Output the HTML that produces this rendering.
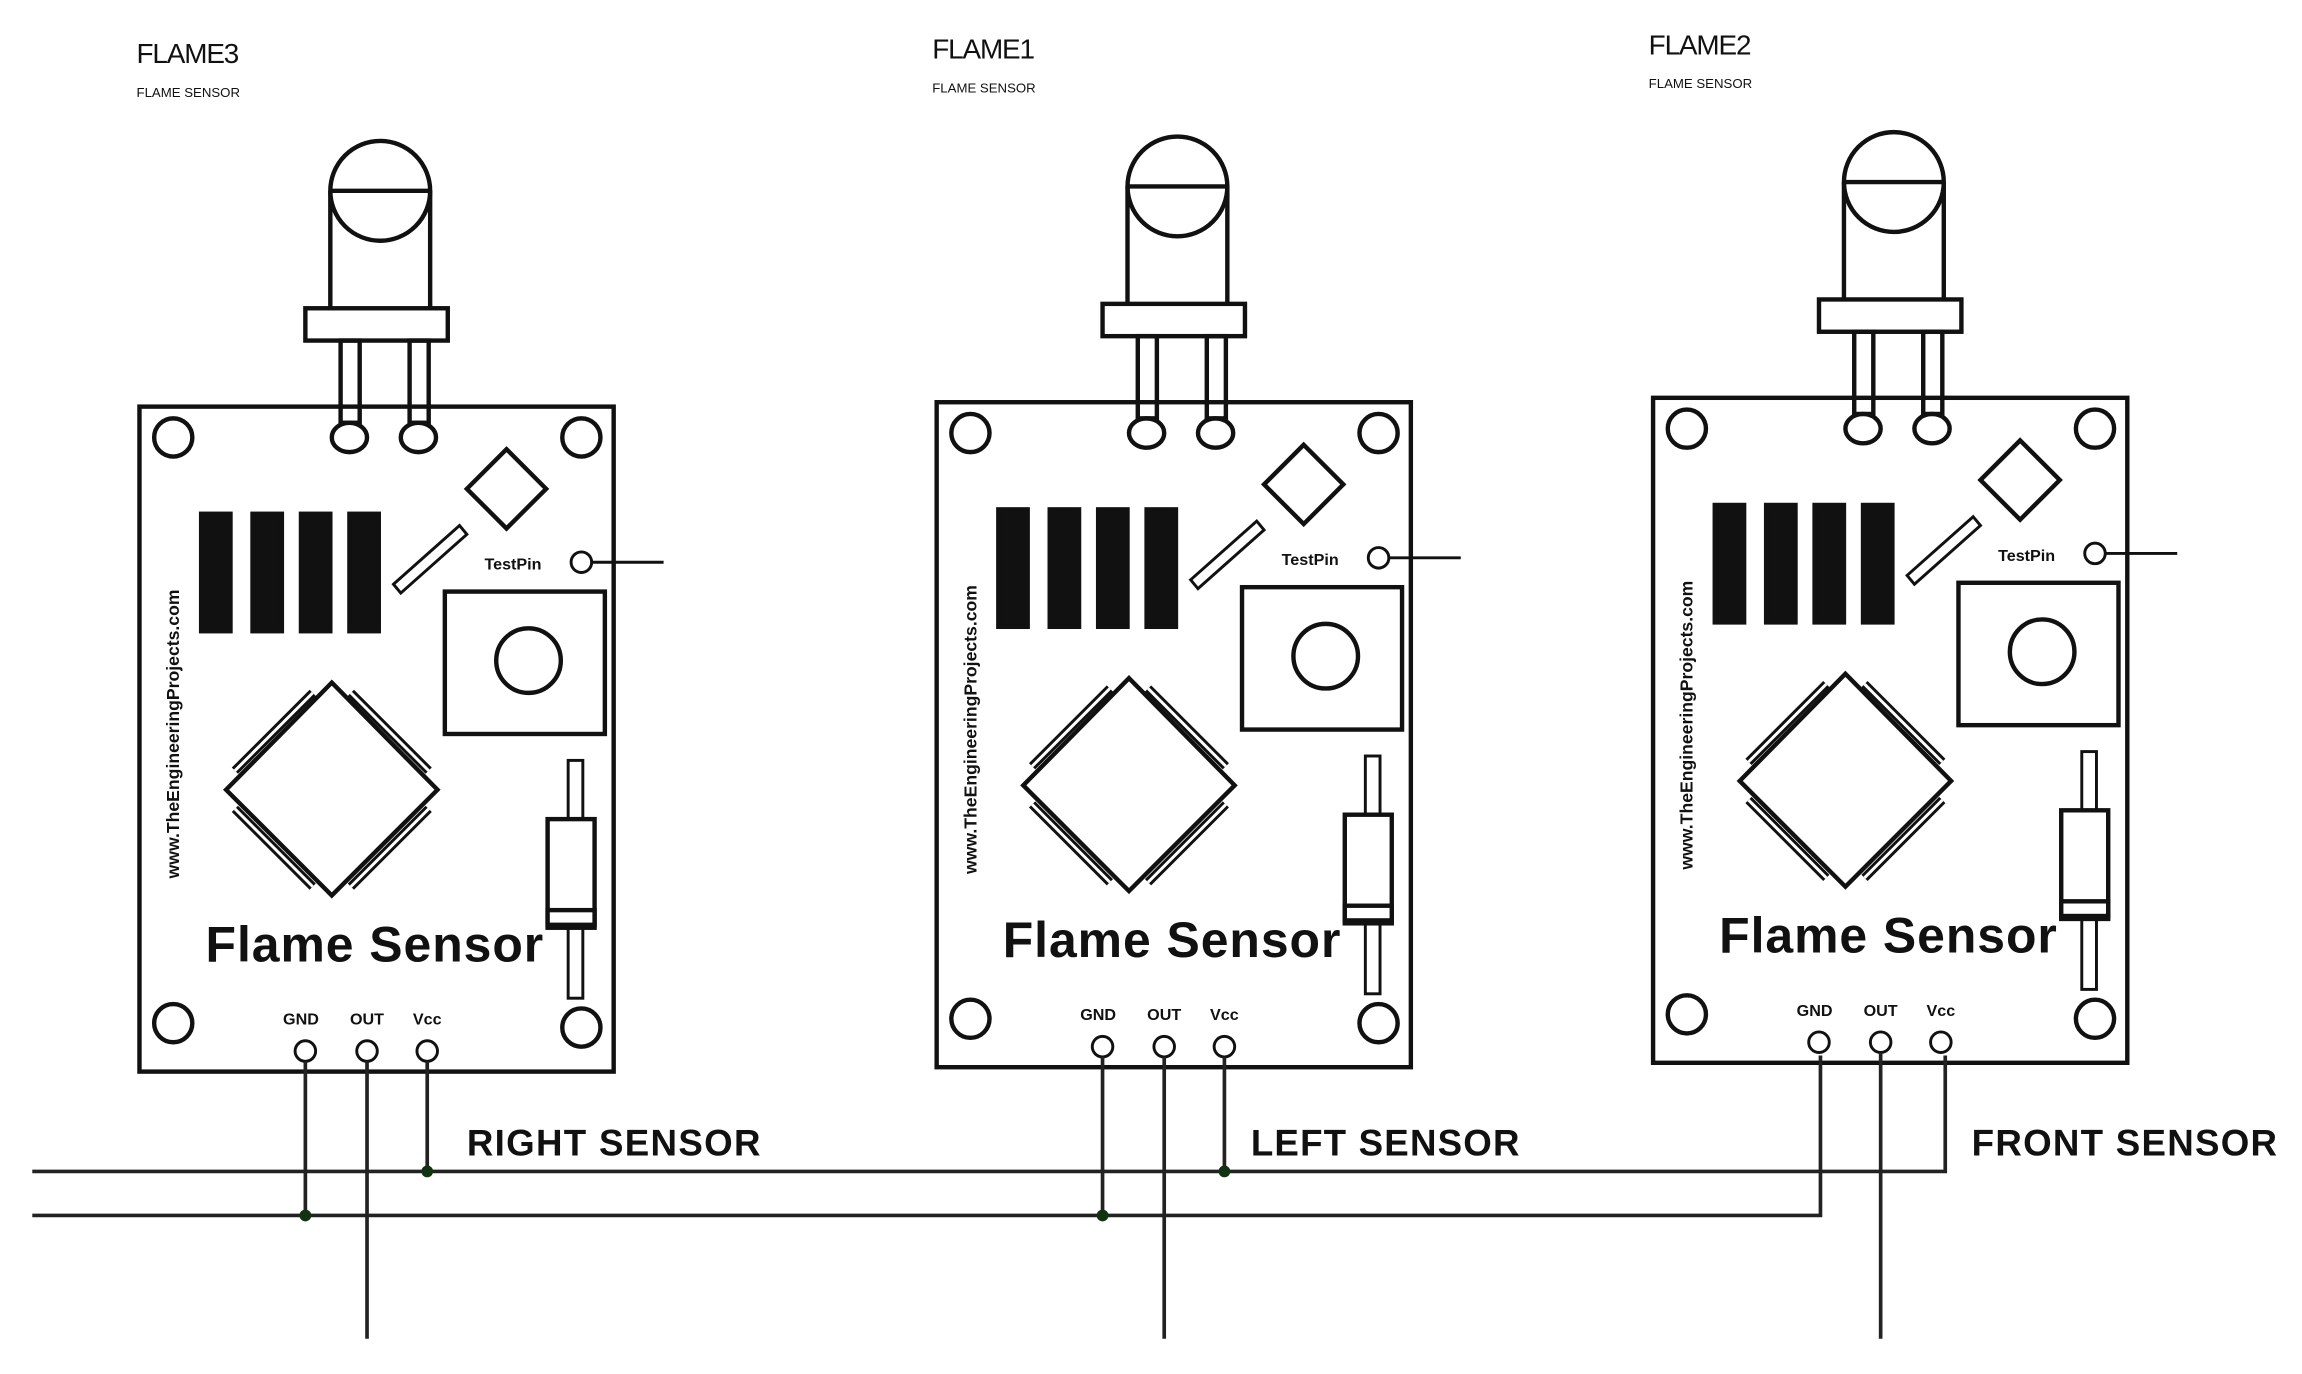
<!DOCTYPE html>
<html><head><meta charset="utf-8"><style>
html,body{margin:0;padding:0;background:#fff;}
svg{display:block;}
text{font-family:"Liberation Sans",sans-serif;fill:#111;}
</style></head><body>
<svg width="2302" height="1374" viewBox="0 0 1568 936" preserveAspectRatio="none" xmlns="http://www.w3.org/2000/svg">
<defs>
<g id="s" fill="none" stroke="#111" stroke-width="3">
  <circle cx="259" cy="130" r="34"/>
  <line x1="225" y1="130" x2="293" y2="130"/>
  <path d="M225,130 L225,210 M293,130 L293,210"/>
  <rect x="208" y="210" width="97" height="22"/>
  <rect x="232" y="232" width="13" height="56"/>
  <rect x="279" y="232" width="13" height="56"/>
  <rect x="95" y="277" width="323" height="453"/>
  <ellipse cx="238" cy="298" rx="12" ry="10"/><ellipse cx="285" cy="298" rx="12" ry="10"/>
  <circle cx="118" cy="298" r="13"/><circle cx="396" cy="298" r="13"/>
  <circle cx="118" cy="697" r="13"/><circle cx="396" cy="700" r="13"/>
  <path d="M345,306 L372,333 L345,360 L318,333 Z"/>
  <path d="M268,398 L313,358 L318,364 L273,404 Z" stroke-width="2"/>
  <rect x="137" y="350" width="20" height="80" fill="#111"/>
  <rect x="172" y="350" width="20" height="80" fill="#111"/>
  <rect x="205" y="350" width="20" height="80" fill="#111"/>
  <rect x="238" y="350" width="20" height="80" fill="#111"/>
  <circle cx="396" cy="383" r="7" stroke-width="2"/>
  <line x1="403" y1="383" x2="452" y2="383" stroke-width="2"/>
  <rect x="303" y="403" width="109" height="97"/>
  <circle cx="360" cy="450" r="22"/>
  <path d="M226,465 L298,538 L226,610 L154,538 Z"/>
  <path d="M160,525 L213,472 M239,472 L292,525 M292,551 L239,604 M213,604 L160,551" stroke-width="6"/>
  <path d="M160,525 L213,472 M239,472 L292,525 M292,551 L239,604 M213,604 L160,551" stroke="#fff" stroke-width="2"/>
  <rect x="387" y="518" width="10" height="162" fill="#fff" stroke-width="2"/>
  <rect x="373" y="558" width="32" height="74" fill="#fff"/>
  <rect x="373" y="620" width="32" height="10" fill="#fff"/>
  <circle cx="208" cy="716" r="7" stroke-width="2"/>
  <circle cx="250" cy="716" r="7" stroke-width="2"/>
  <circle cx="291" cy="716" r="7" stroke-width="2"/>
</g>
<g id="t">
  <text x="330" y="388" font-size="11" font-weight="bold">TestPin</text>
  <text x="140" y="655" font-size="34" font-weight="bold" textLength="230">Flame Sensor</text>
  <text transform="translate(122,500) rotate(-90)" text-anchor="middle" font-size="12" font-weight="bold">www.TheEngineeringProjects.com</text>
  <text x="205" y="698" font-size="11" text-anchor="middle" font-weight="bold">GND</text>
  <text x="250" y="698" font-size="11" text-anchor="middle" font-weight="bold">OUT</text>
  <text x="291" y="698" font-size="11" text-anchor="middle" font-weight="bold">Vcc</text>
</g>
</defs>
<use href="#s"/><use href="#t"/>
<g transform="translate(543,-3)"><use href="#s"/><use href="#t"/></g>
<g transform="translate(1031,-6)"><use href="#s"/><use href="#t"/></g>

<text x="93" y="43" font-size="19" textLength="70">FLAME3</text>
<text x="93" y="66" font-size="9">FLAME SENSOR</text>
<text x="635" y="40" font-size="19" textLength="70">FLAME1</text>
<text x="635" y="63" font-size="9">FLAME SENSOR</text>
<text x="1123" y="37" font-size="19" textLength="70">FLAME2</text>
<text x="1123" y="60" font-size="9">FLAME SENSOR</text>

<g fill="none" stroke="#222" stroke-width="2.5">
  <path d="M22,798 L1325,798 L1325,719"/>
  <path d="M22,828 L1240,828 L1240,719"/>
  <path d="M208,723 V828 M250,723 V912 M291,723 V798"/>
  <path d="M751,720 V828 M793,720 V912 M834,720 V798"/>
  <path d="M1281,717 V912"/>
</g>
<g fill="#113311">
  <circle cx="291" cy="798" r="4"/><circle cx="208" cy="828" r="4"/>
  <circle cx="834" cy="798" r="4"/><circle cx="751" cy="828" r="4"/>
</g>
<text x="318" y="787" font-size="25" font-weight="bold" textLength="200">RIGHT SENSOR</text>
<text x="852" y="787" font-size="25" font-weight="bold" textLength="183">LEFT SENSOR</text>
<text x="1343" y="787" font-size="25" font-weight="bold" textLength="208">FRONT SENSOR</text>
</svg>
</body></html>
